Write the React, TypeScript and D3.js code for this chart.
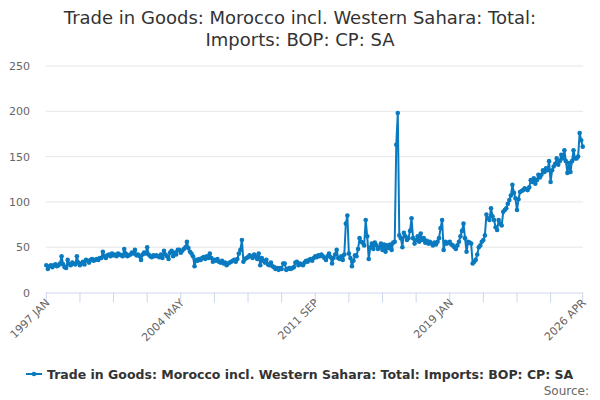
import React from 'react'
import * as d3 from 'd3'

// monthly values, Jan 1997 .. Apr 2026 (£ million)
const v1997 = [30, 26, 29, 30, 28, 30, 31, 29, 30, 32, 40, 31]
const v1998 = [28, 27, 36, 31, 30, 33, 32, 31, 40, 33, 30, 32]
const v1999 = [34, 31, 36, 35, 33, 36, 37, 35, 36, 37, 36, 38]
const v2000 = [38, 45, 40, 38, 41, 42, 40, 43, 41, 42, 40, 43]
const v2001 = [42, 41, 40, 48, 43, 40, 41, 42, 44, 43, 47, 41]
const v2002 = [42, 40, 36, 42, 44, 43, 50, 42, 40, 39, 41, 40]
const v2003 = [41, 40, 39, 42, 38, 46, 42, 40, 37, 44, 46, 40]
const v2004 = [44, 42, 47, 47, 44, 46, 48, 50, 56, 49, 45, 43]
const v2005 = [40, 29, 36, 35, 37, 36, 38, 39, 37, 40, 38, 43]
const v2006 = [38, 34, 36, 35, 37, 34, 33, 35, 32, 33, 30, 32]
const v2007 = [33, 34, 35, 36, 34, 37, 43, 47, 58, 34, 37, 38]
const v2008 = [39, 41, 40, 38, 42, 40, 37, 43, 30, 38, 35, 33]
const v2009 = [36, 31, 30, 33, 29, 28, 26, 27, 25, 27, 26, 32]
const v2010 = [32, 25, 26, 27, 26, 27, 28, 33, 34, 30, 32, 31]
const v2011 = [30, 33, 35, 34, 36, 37, 35, 38, 40, 39, 41, 40]
const v2012 = [42, 40, 38, 36, 40, 43, 39, 32, 38, 42, 47, 38]
const v2013 = [37, 40, 36, 42, 76, 85, 43, 38, 29, 35, 41, 40]
const v2014 = [48, 60, 56, 55, 52, 80, 62, 37, 50, 54, 48, 55]
const v2015 = [52, 48, 50, 54, 47, 53, 45, 52, 49, 53, 47, 55]
const v2016 = [56, 163, 198, 63, 60, 50, 66, 62, 58, 60, 68, 82]
const v2017 = [60, 54, 58, 62, 56, 65, 58, 60, 55, 57, 54, 56]
const v2018 = [54, 52, 55, 53, 56, 60, 71, 80, 47, 56, 54, 55]
const v2019 = [56, 53, 52, 50, 48, 52, 56, 62, 68, 76, 60, 45]
const v2020 = [56, 55, 54, 32, 34, 36, 42, 50, 52, 56, 58, 63]
const v2021 = [86, 82, 80, 93, 84, 80, 72, 69, 80, 76, 74, 89]
const v2022 = [91, 93, 98, 102, 107, 119, 110, 104, 91, 103, 111, 112]
const v2023 = [113, 115, 114, 113, 116, 124, 122, 126, 120, 124, 130, 127]
const v2024 = [130, 135, 133, 137, 135, 145, 122, 135, 139, 142, 148, 141]
const v2025 = [145, 152, 148, 157, 145, 132, 143, 133, 145, 157, 148, 148]
const v2026 = [150, 176, 168, 161]

const values = [
  ...v1997, ...v1998, ...v1999, ...v2000, ...v2001, ...v2002, ...v2003, ...v2004,
  ...v2005, ...v2006, ...v2007, ...v2008, ...v2009, ...v2010, ...v2011, ...v2012,
  ...v2013, ...v2014, ...v2015, ...v2016, ...v2017, ...v2018, ...v2019, ...v2020,
  ...v2021, ...v2022, ...v2023, ...v2024, ...v2025, ...v2026,
]

const MONTHS = ['JAN', 'FEB', 'MAR', 'APR', 'MAY', 'JUN', 'JUL', 'AUG', 'SEP', 'OCT', 'NOV', 'DEC']
const categories = values.map((_, i) => `${1997 + Math.floor(i / 12)} ${MONTHS[i % 12]}`)

const yTicks = [0, 50, 100, 150, 200, 250]
const labelIdx = [0, 88, 176, 264, 351]

const TITLE = ['Trade in Goods: Morocco incl. Western Sahara: Total:', 'Imports: BOP: CP: SA']
const SERIES = 'Trade in Goods: Morocco incl. Western Sahara: Total: Imports: BOP: CP: SA'
const COLOR = '#0a7ac0'
const FONT = '"DejaVu Sans", sans-serif'

const App: React.FC = () => {
  const width = 600
  const height = 400

  const x = d3.scalePoint<string>().domain(categories).range([46.3, 582.7])
  const y = d3.scaleLinear().domain([0, 250]).range([292.5, 66])

  const tickIdx = d3.range(0, 351, 22).concat([351])

  const line = d3.line<number>()
    .x((_, i) => x(categories[i])!)
    .y(d => y(d))

  return (
    <div style={{ position: 'absolute', left: 0, top: 0 }}>
      <svg width={width} height={height} style={{ fontFamily: FONT, display: 'block' }}>
        <rect width={width} height={height} fill="#fff" />

        {TITLE.map((t, i) => (
          <text key={i} x={300} y={24 + i * 22} textAnchor="middle" fontSize={18} fill="#333">{t}</text>
        ))}

        {yTicks.map(t => (
          <g key={t}>
            {t > 0 && <line x1={46} x2={583} y1={y(t)} y2={y(t)} stroke="#e6e6e6" />}
            <text x={30} y={y(t) + 4} textAnchor="end" fontSize={11} fill="#666">{t}</text>
          </g>
        ))}

        <line x1={46} x2={583} y1={y(0) + 0.5} y2={y(0) + 0.5} stroke="#ccd6eb" />
        {tickIdx.map(i => (
          <line key={i} x1={x(categories[i])!} x2={x(categories[i])!} y1={y(0)} y2={y(0) + 10} stroke="#ccd6eb" />
        ))}
        {labelIdx.map(i => (
          <text key={i} transform={`translate(${x(categories[i])! + 4},${y(0) + 11}) rotate(-45)`}
            textAnchor="end" fontSize={11} fill="#666">{categories[i]}</text>
        ))}

        <path d={line(values) ?? ''} fill="none" stroke={COLOR} strokeWidth={2} strokeLinejoin="round" />
        {values.map((v, i) => (
          <circle key={i} cx={x(categories[i])!} cy={y(v)} r={2.3} fill={COLOR} />
        ))}

        <g>
          <line x1={26} x2={42} y1={374} y2={374} stroke={COLOR} strokeWidth={2} />
          <circle cx={34} cy={374} r={2.3} fill={COLOR} />
          <text x={47} y={378.5} fontSize={12.5} fontWeight="bold" fill="#333">{SERIES}</text>
        </g>

        <text x={589} y={395} textAnchor="end" fontSize={12} fill="#666">Source:</text>
      </svg>
    </div>
  )
}

export default App
